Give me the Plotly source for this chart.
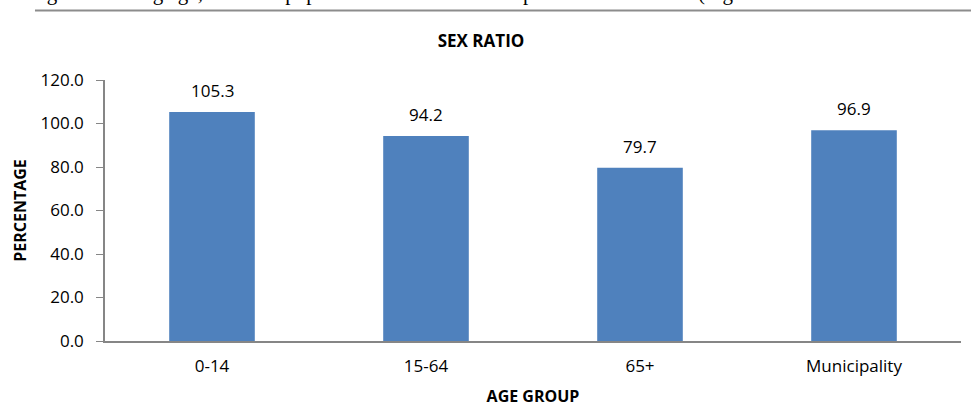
import plotly.graph_objects as go

# Sex ratio (males per 100 females) by age group
age_groups = ["0-14", "15-64", "65+", "Municipality"]
sex_ratio = [105.3, 94.2, 79.7, 96.9]
y_ticks = [0, 20, 40, 60, 80, 100, 120]
y_tick_text = [f"{v:.1f}" for v in y_ticks]

BAR_COLOR = "#4F81BD"
AXIS_COLOR = "#868686"
FONT = "'Open Sans', Lato, sans-serif"

fig = go.Figure(
    go.Bar(
        x=age_groups,
        y=sex_ratio,
        marker=dict(color=BAR_COLOR, line=dict(width=0)),
        hoverinfo="x+y",
    )
)

# Value labels above each bar
for cat, val in zip(age_groups, sex_ratio):
    fig.add_annotation(
        x=cat,
        y=val,
        text=f"{val:.1f}",
        showarrow=False,
        yanchor="bottom",
        yshift=8,
        font=dict(family=FONT, size=17, color="#000000"),
    )

fig.update_layout(
    width=971,
    height=407,
    margin=dict(l=105, r=10, t=80, b=66),
    paper_bgcolor="white",
    plot_bgcolor="white",
    bargap=0.6,
    showlegend=False,
    font=dict(family=FONT, size=17, color="#000000"),
    title=dict(
        text="<b>SEX RATIO</b>",
        x=481 / 971,
        xanchor="center",
        y=1 - 41 / 407,
        yanchor="middle",
        font=dict(family=FONT, size=17, color="#000000"),
    ),
)

fig.update_xaxes(
    automargin=False,
    showline=True,
    linecolor=AXIS_COLOR,
    linewidth=1.5,
    ticks="",
    showgrid=False,
    ticklabelstandoff=9,
    tickfont=dict(family=FONT, size=17),
    title=dict(text="<b>AGE GROUP</b>", font=dict(family=FONT, size=16), standoff=15),
)

fig.update_yaxes(
    automargin=False,
    range=[0, 120],
    tickmode="array",
    tickvals=y_ticks,
    ticktext=y_tick_text,
    showline=True,
    linecolor=AXIS_COLOR,
    linewidth=1.5,
    ticks="outside",
    ticklen=7,
    tickcolor=AXIS_COLOR,
    showgrid=False,
    zeroline=False,
    ticklabelstandoff=9,
    tickfont=dict(family=FONT, size=17),
    title=dict(text="<b>PERCENTAGE</b>", font=dict(family=FONT, size=16), standoff=10),
)

# Running text of the surrounding page and its rule line
fig.add_annotation(
    text="among the working age, the male population are fewer as compared to the females (Figure",
    xref="paper",
    yref="paper",
    x=-0.125,
    y=1.278,
    xanchor="left",
    yanchor="bottom",
    showarrow=False,
    font=dict(family="'Liberation Serif', 'DejaVu Serif', serif", size=21, color="#000000"),
)
fig.add_shape(
    type="line",
    xref="paper",
    yref="paper",
    x0=-0.0818,
    x1=1.0117,
    y0=1.266,
    y1=1.266,
    line=dict(color="#8C8C8C", width=2),
)

fig.write_html("out.html")
